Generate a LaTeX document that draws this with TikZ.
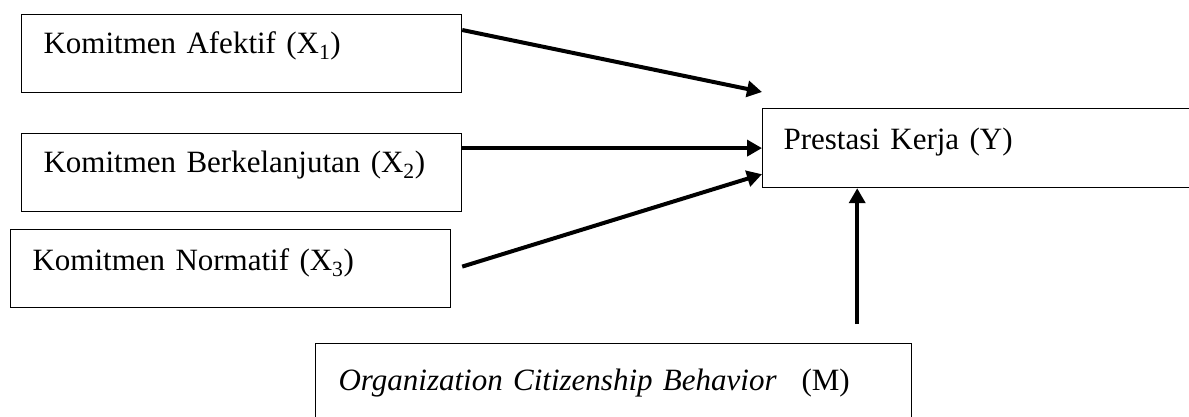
\documentclass[tikz,border=0pt]{standalone}
\usepackage{fontspec}
\setmainfont{Liberation Serif}
\usetikzlibrary{arrows.meta}

\begin{document}
\begin{tikzpicture}[x=1pt,y=-1pt]
      \useasboundingbox (0,0) rectangle (1189,417);
      \clip (0,0) rectangle (1189,417);
      \begin{scope}[every node/.style={draw,line width=1.2pt,anchor=north west,align=left,
          inner ysep=0pt,inner xsep=22pt,text width=396pt,text height=39pt,text depth=39pt,
          font=\fontsize{31}{36}\selectfont}]
        \node (x1) at (21,14) {Komitmen Afektif (X\textsubscript{1})};
        \node (x2) at (21,133) {Komitmen Berkelanjutan (X\textsubscript{2})};
        \node[text height=41pt,text depth=37pt] (x3) at (10,229) {Komitmen Normatif (X\textsubscript{3})};
        \node[inner xsep=21pt,text width=500pt,text height=41pt,text depth=38pt] (y) at (762,108) {Prestasi Kerja (Y)};
        \node[inner xsep=23pt,text width=550pt,text height=47pt,text depth=40pt] (m) at (315,343)
          {\textit{Organization Citizenship Behavior}\hspace{0.8em}(M)};
      \end{scope}
      \coordinate (mtop) at ([xshift=-55pt,yshift=19pt]m.north east);
      \begin{scope}[every edge/.style={draw,line width=4pt,-{Triangle[length=15pt,width=16pt]}}]
        \path ([yshift=-16pt]x1.north east) edge ([yshift=16pt]y.north west);
        \path (x2.east |- y.west) edge (y.west);
        \path ([xshift=11pt,yshift=2pt]x3.east) edge ([yshift=14pt]y.south west);
        \path (mtop) edge (mtop |- y.south);
      \end{scope}
    \end{tikzpicture}
\end{document}
